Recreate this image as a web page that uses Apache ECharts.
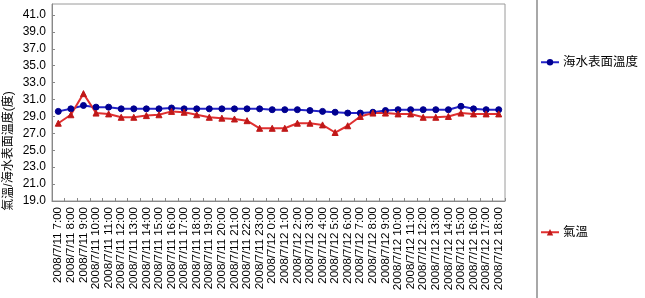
<!DOCTYPE html>
<html>
<head>
<meta charset="utf-8">
<script src="https://cdn.jsdelivr.net/npm/echarts@6/dist/echarts.min.js"></script>
<style>html,body{margin:0;padding:0;background:#fff;}#c{width:645px;height:298px;}</style>
</head>
<body>
<div id="c"></div>
<script>
const categories = [
  '2008/7/11 7:00','2008/7/11 8:00','2008/7/11 9:00','2008/7/11 10:00','2008/7/11 11:00','2008/7/11 12:00',
  '2008/7/11 13:00','2008/7/11 14:00','2008/7/11 15:00','2008/7/11 16:00','2008/7/11 17:00','2008/7/11 18:00',
  '2008/7/11 19:00','2008/7/11 20:00','2008/7/11 21:00','2008/7/11 22:00','2008/7/11 23:00','2008/7/12 0:00',
  '2008/7/12 1:00','2008/7/12 2:00','2008/7/12 3:00','2008/7/12 4:00','2008/7/12 5:00','2008/7/12 6:00',
  '2008/7/12 7:00','2008/7/12 8:00','2008/7/12 9:00','2008/7/12 10:00','2008/7/12 11:00','2008/7/12 12:00',
  '2008/7/12 13:00','2008/7/12 14:00','2008/7/12 15:00','2008/7/12 16:00','2008/7/12 17:00','2008/7/12 18:00'
];
const seaTemp = [
  29.6, 29.9, 30.3, 30.1, 30.1, 29.9, 29.9, 29.9, 29.9, 30.0, 29.9, 29.9,
  29.9, 29.9, 29.9, 29.9, 29.9, 29.8, 29.8, 29.8, 29.7, 29.6, 29.5, 29.4,
  29.4, 29.5, 29.7, 29.8, 29.8, 29.8, 29.8, 29.8, 30.2, 29.9, 29.8, 29.8
];
const airTemp = [
  28.2, 29.2, 31.7, 29.4, 29.3, 28.9, 28.9, 29.1, 29.2, 29.6, 29.5, 29.2,
  28.9, 28.8, 28.7, 28.5, 27.6, 27.6, 27.6, 28.2, 28.2, 28.0, 27.1, 27.9,
  29.0, 29.4, 29.4, 29.3, 29.3, 28.9, 28.9, 29.0, 29.4, 29.3, 29.3, 29.3
];
const seriesNames = ['海水表面溫度', '氣溫'];
const yTitle = '氣溫/海水表面溫度(度)';

const FONT = "'Liberation Sans', 'Noto Sans CJK TC', sans-serif";
const chart = echarts.init(document.getElementById('c'), null, {renderer: 'canvas'});
chart.setOption({
  animation: false,
  backgroundColor: '#fff',
  textStyle: {fontFamily: FONT},
  grid: {left: 52, right: 140, top: 4, bottom: 97, show: true, borderColor: '#9a9a9a', borderWidth: 1},
  legend: [
    {data: [seriesNames[0]], left: 540, top: 56, padding: 0, itemWidth: 18, itemHeight: 8, itemGap: 4,
     textStyle: {fontFamily: FONT, fontSize: 12.5, color: '#000', padding: [0, 0, 0, -1]}},
    {data: [seriesNames[1]], left: 540, top: 226, padding: 0, itemWidth: 18, itemHeight: 8, itemGap: 4,
     textStyle: {fontFamily: FONT, fontSize: 12.5, color: '#000', padding: [0, 0, 0, -1]}}
  ],
  xAxis: {
    type: 'category',
    data: categories,
    boundaryGap: true,
    axisLine: {lineStyle: {color: '#888', width: 1}},
    axisTick: {show: true, inside: true, length: 3, interval: 0, lineStyle: {color: '#888'}},
    axisLabel: {rotate: 90, interval: 0, fontSize: 11.5, color: '#000', margin: 6, fontFamily: FONT},
    splitLine: {show: false}
  },
  yAxis: {
    type: 'value',
    min: 19,
    max: 42.3,
    interval: 2,
    axisLine: {show: true, lineStyle: {color: '#888', width: 1}},
    axisTick: {show: true, inside: true, length: 3, lineStyle: {color: '#888'}},
    axisLabel: {showMaxLabel: false, fontSize: 12, color: '#000', margin: 6, fontFamily: FONT,
      formatter: v => v.toFixed(1)},
    splitLine: {show: false}
  },
  graphic: [
    {type: 'text', x: 9, y: 151, rotation: Math.PI / 2,
     style: {text: yTitle, fontSize: 12, fontFamily: FONT, fill: '#000', align: 'center', verticalAlign: 'middle'}},
    {type: 'line', shape: {x1: 537, y1: 0, x2: 537, y2: 298}, style: {stroke: '#a8a8a8', lineWidth: 2}}
  ],
  series: [
    {name: seriesNames[0], type: 'line', data: seaTemp, symbol: 'circle', symbolSize: 6,
     lineStyle: {color: '#2424c8', width: 2}, itemStyle: {color: '#000090', borderColor: '#000090'}, color: '#000090'},
    {name: seriesNames[1], type: 'line', data: airTemp, symbol: 'triangle', symbolSize: 6,
     lineStyle: {color: '#e03030', width: 2}, itemStyle: {color: '#c01818', borderColor: '#c01818'}, color: '#d02020'}
  ]
});
</script>
</body>
</html>
